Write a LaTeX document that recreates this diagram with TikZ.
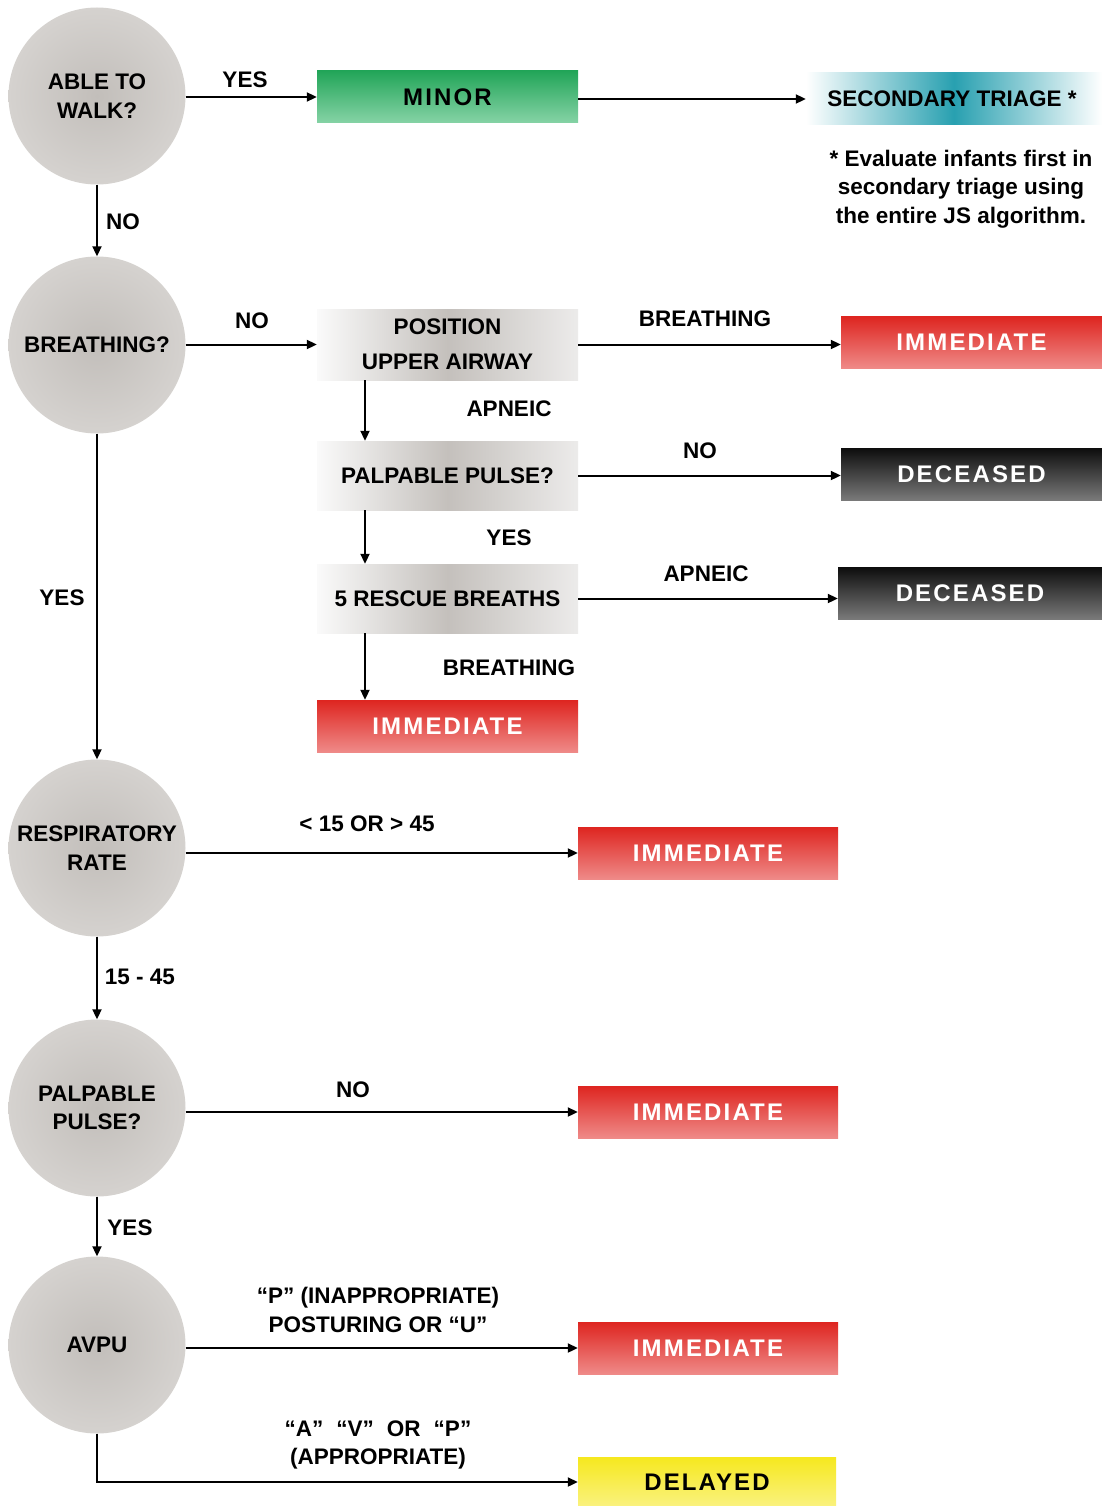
\documentclass[tikz,border=0pt]{standalone}
\usepackage{fontspec}
\setmainfont{Liberation Sans}
\newfontfamily\spacedfont{Liberation Sans}[LetterSpace=9]
\usetikzlibrary{arrows.meta,calc}
\definecolor{redtop}{RGB}{222,37,32}
\definecolor{redbot}{RGB}{239,138,136}
\definecolor{blacktop}{RGB}{14,14,14}
\definecolor{blackbot}{RGB}{122,122,122}
\definecolor{greentop}{RGB}{34,165,88}
\definecolor{greenbot}{RGB}{134,211,166}
\definecolor{yellowtop}{RGB}{246,232,30}
\definecolor{yellowbot}{RGB}{250,242,128}
\definecolor{tealmid}{RGB}{40,160,176}
\definecolor{circin}{RGB}{194,190,186}
\definecolor{circout}{RGB}{232,230,228}
\definecolor{gin}{RGB}{196,192,188}
\definecolor{gleft}{RGB}{250,250,250}
\definecolor{gright}{RGB}{236,235,234}
\pgfdeclareradialshading{circshade}{\pgfpoint{0bp}{0bp}}{color(0bp)=(circin); color(10bp)=(circin!80!circout); color(50bp)=(circout)}
\pgfdeclarehorizontalshading{grayshade}{100bp}{color(0bp)=(gleft); color(25bp)=(gleft); color(50bp)=(gin); color(75bp)=(gright); color(100bp)=(gright)}
\begin{document}
\begin{tikzpicture}[x=1pt,y=-1pt,
  font=\fontsize{22.5}{28.5}\selectfont\bfseries,
  decision/.style={circle, minimum size=177pt, inner sep=0pt, shading=circshade, align=center},
  gbox/.style={rectangle, minimum width=261pt, minimum height=70pt, inner sep=0pt, shading=grayshade, align=center},
  cbox/.style={rectangle, minimum width=261pt, minimum height=52pt, inner sep=0pt, font=\spacedfont\fontsize{24}{28}\selectfont\bfseries},
  redbox/.style={cbox, top color=redtop, bottom color=redbot, text=white},
  blackbox/.style={cbox, top color=blacktop, bottom color=blackbot, text=white},
  greenbox/.style={cbox, top color=greentop, bottom color=greenbot, text=black},
  yellowbox/.style={cbox, top color=yellowtop, bottom color=yellowbot, text=black},
  arr/.style={line width=2pt, -{Triangle[length=10pt,width=9pt]}},
  lbl/.style={inner sep=0pt, align=center}
]
\useasboundingbox (0,0) rectangle (1102,1506);
\fill[white] (0,0) rectangle (1102,1506);

% decision circles
\node[decision] (c1) at (97,96) {ABLE TO\\WALK?};
\node[decision] (c2) at (97,345) {BREATHING?};
\node[decision] (c3) at (97,848) {RESPIRATORY\\RATE};
\node[decision] (c4) at (97,1108) {PALPABLE\\PULSE?};
\node[decision] (c5) at (97,1345) {AVPU};

% boxes
\node[greenbox] (minor) at (447.5,97) {MINOR};
\node[rectangle, minimum width=296pt, minimum height=52pt, inner sep=0pt,
      left color=white, right color=white, middle color=tealmid] (sec) at (954,99) {};
\node[lbl] (sectxt) at (952,99) {SECONDARY TRIAGE *};
\node[lbl] (note) at (961,189)
  {* Evaluate infants first in\\secondary triage using\\the entire JS algorithm.};

\node[gbox, minimum height=71pt] (pos) at (447.5,344.5) {POSITION\\[6pt]UPPER AIRWAY};
\node[redbox] (imm1) at (971.5,342.5) {IMMEDIATE};
\node[gbox, minimum height=69pt] (palp) at (447.5,475.5) {PALPABLE PULSE?};
\node[blackbox] (dec1) at (971.5,474.5) {DECEASED};
\node[gbox, minimum height=69pt] (resc) at (447.5,598.5) {5 RESCUE BREATHS};
\node[blackbox, minimum width=264pt] (dec2) at (970,593.5) {DECEASED};
\node[redbox] (imm2) at (447.5,726) {IMMEDIATE};
\node[redbox, minimum width=260pt] (imm3) at (708,853) {IMMEDIATE};
\node[redbox, minimum width=260pt] (imm4) at (708,1112) {IMMEDIATE};
\node[redbox, minimum width=260pt] (imm5) at (708,1348) {IMMEDIATE};
\node[yellowbox, minimum width=258pt, minimum height=50pt] (del) at (707,1482) {DELAYED};

% connectors
\draw[arr] (c1.east |- minor.west) -- (minor.west);
\draw[arr] ([yshift=-2pt]minor.east) -- ([yshift=-2pt]minor.east -| sec.west);
\draw[arr] (c1.south) -- (c2.north);
\draw[arr] (c2.east |- pos.west) -- (pos.west);
\draw[arr] (pos.east) -- (pos.east -| imm1.west);
\draw[arr] ([xshift=-82.5pt]pos.south) -- ([xshift=-82.5pt]palp.north);
\draw[arr] (palp.east) -- (palp.east -| dec1.west);
\draw[arr] ([xshift=-82.5pt]palp.south) -- ([xshift=-82.5pt]resc.north);
\draw[arr] (resc.east) -- (resc.east -| dec2.west);
\draw[arr] ([xshift=-82.5pt]resc.south) -- ([xshift=-82.5pt]imm2.north);
\draw[arr] (c2.south) -- (c3.north);
\draw[arr] (c3.east |- imm3.west) -- (imm3.west);
\draw[arr] (c3.south) -- (c4.north);
\draw[arr] (c4.east |- imm4.west) -- (imm4.west);
\draw[arr] (c4.south) -- (c5.north);
\draw[arr] (c5.east |- imm5.west) -- (imm5.west);
\draw[arr] (c5.south) -- (c5.south |- del.west) -- (del.west);

% connector labels
\node[lbl] (l1) at (245,80) {YES};
\node[lbl] (l2) at (123,222) {NO};
\node[lbl] (l3) at (252,321) {NO};
\node[lbl] (l4) at (705,319) {BREATHING};
\node[lbl] (l5) at (509,409) {APNEIC};
\node[lbl] (l6) at (700,451) {NO};
\node[lbl] (l7) at (509,538) {YES};
\node[lbl] (l8) at (706,574) {APNEIC};
\node[lbl] (l9) at (509,668) {BREATHING};
\node[lbl] (l10) at (62,598) {YES};
\node[lbl] (l11) at (367,824) {< 15 OR > 45};
\node[lbl] (l12) at (140,977) {15 - 45};
\node[lbl] (l13) at (353,1090) {NO};
\node[lbl] (l14) at (130,1228) {YES};
\node[lbl] (l15) at (378,1310) {“P” (INAPPROPRIATE)\\POSTURING OR “U”};
\node[lbl] (l16) at (378,1445) {“A”\hspace{13pt}“V”\hspace{13pt}OR\hspace{13pt}“P”\\(APPROPRIATE)};
\end{tikzpicture}
\end{document}
